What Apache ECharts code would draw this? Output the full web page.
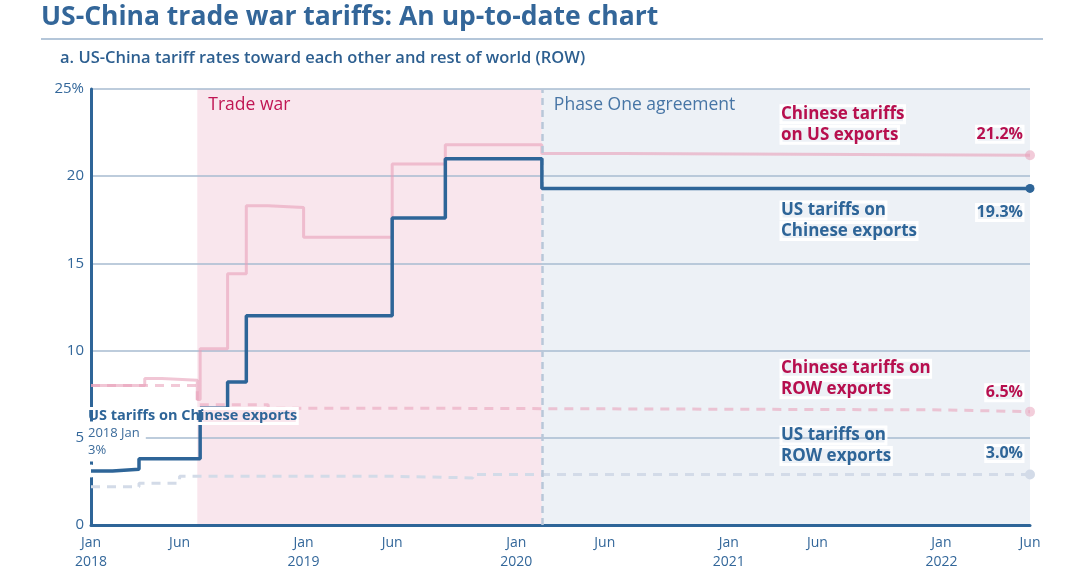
<!DOCTYPE html>
<html>
<head>
<meta charset="utf-8">
<script src="https://cdn.jsdelivr.net/npm/echarts@6/dist/echarts.min.js"></script>
<style>
html,body{margin:0;padding:0;background:#fff;}
#c{width:1080px;height:586px;}
</style>
</head>
<body>
<div id="c"></div>
<script>
// ---- Data ----
const usOnChinaDates  = ['2018-01-01','2018-02-07','2018-03-23','2018-07-06','2018-08-23','2018-09-24','2019-06-01','2019-09-01','2020-02-14','2022-06-01'];
const usOnChinaValues = [3.1, 3.2, 3.8, 6.7, 8.2, 12.0, 17.6, 21.0, 19.3, 19.3];

const chinaOnUSDates  = ['2018-01-01','2018-04-02','2018-05-01','2018-07-01','2018-07-06','2018-08-23','2018-09-24','2018-11-01','2019-01-01','2019-06-01','2019-09-01','2020-02-14','2020-07-01','2022-06-01'];
const chinaOnUSValues = [8.0, 8.4, 8.3, 7.2, 10.1, 14.4, 18.3, 18.2, 16.5, 20.7, 21.8, 21.3, 21.2, 21.2];

const chinaOnROWDates  = ['2018-01-01','2018-07-01','2018-11-01','2019-06-01','2022-01-01','2022-06-01'];
const chinaOnROWValues = [8.0, 6.9, 6.7, 6.6, 6.5, 6.5];

const usOnROWDates  = ['2018-01-01','2018-03-23','2018-06-01','2019-05-20','2019-10-18','2022-06-01'];
const usOnROWValues = [2.2, 2.4, 2.8, 2.7, 2.9, 2.9];

const tradeWarStart = '2018-07-01';
const phaseOneStart = '2020-02-14';
const axisEnd = '2022-06-01';

const xTickDates = ['2018-01-01','2018-06-01','2019-01-01','2019-06-01','2020-01-01','2020-06-01','2021-01-01','2021-06-01','2022-01-01','2022-06-01'];

const endLabels = {
  chinaOnUS: ['Chinese tariffs', 'on US exports'],
  usOnChina: ['US tariffs on', 'Chinese exports'],
  chinaOnROW: ['Chinese tariffs on', 'ROW exports'],
  usOnROW: ['US tariffs on', 'ROW exports']
};
const endValueText = { chinaOnUS: '21.2%', usOnChina: '19.3%', chinaOnROW: '6.5%', usOnROW: '3.0%' };

// ---- helpers ----
function toMonths(s){
  const [y,m,d] = s.split('-').map(Number);
  const dim = new Date(y, m, 0).getDate();
  return (y-2018)*12 + (m-1) + (d-1)/dim;
}
function pairs(dates, vals){ return dates.map((d,i)=>[toMonths(d), vals[i]]); }

const BLUE = '#2e6598';
const TXTBLUE = '#33679a';
const PINKTXT = '#b70f4e';
const FONT = '"Open Sans", "Noto Sans", sans-serif';

const xMin = toMonths('2018-01-01');
const xMax = toMonths(axisEnd);
const xTicks = xTickDates.map(toMonths);

const chart = echarts.init(document.getElementById('c'), null, {renderer:'canvas'});

const option = {
  animation: false,
  backgroundColor: '#ffffff',
  textStyle: { fontFamily: FONT },
  grid: { left: 91, right: 50, top: 89, bottom: 61, containLabel: false },
  xAxis: {
    type: 'value', min: xMin, max: xMax, z: 3,
    axisLine: { show: true, onZero: false, lineStyle: { color: BLUE, width: 3 } },
    axisTick: { show: false },
    splitLine: { show: false },
    axisLabel: {
      customValues: xTicks,
      color: TXTBLUE, fontSize: 14, lineHeight: 19, margin: 9, fontFamily: FONT,
      formatter: function(v){
        const m = Math.round(v);
        const yr = 2018 + Math.floor(m/12);
        return (m % 12 === 0) ? 'Jan\n' + yr : 'Jun';
      }
    }
  },
  yAxis: {
    type: 'value', min: 0, max: 25, interval: 5, z: 3,
    axisLine: { show: true, lineStyle: { color: BLUE, width: 3 } },
    axisTick: { show: false },
    splitLine: { show: true, lineStyle: { color: '#a7bbd0', width: 1.5 } },
    axisLabel: {
      color: TXTBLUE, fontSize: 15, margin: 7, fontFamily: FONT,
      formatter: function(v){ return v === 25 ? '25%' : String(v); }
    }
  },
  series: [
    {
      name: 'bands', type: 'line', data: [], z: 1, silent: true,
      markArea: {
        silent: true,
        data: [
          [{ xAxis: toMonths(tradeWarStart), itemStyle: { color: '#f9e6ed' } }, { xAxis: toMonths(phaseOneStart) }],
          [{ xAxis: toMonths(phaseOneStart), itemStyle: { color: '#edf1f6' } }, { xAxis: xMax }]
        ]
      }
    },
    {
      name: 'US tariffs on ROW exports', type: 'line', step: 'end', z: 4,
      data: pairs(usOnROWDates, usOnROWValues), showSymbol: false, silent: true,
      lineStyle: { color: '#d3dbe8', width: 3, type: [9, 7] },
      markPoint: { silent: true, symbol: 'circle', symbolSize: 10, itemStyle: { color: '#d3dbe8' }, label: { show: false },
        data: [{ coord: [xMax, usOnROWValues[usOnROWValues.length-1]] }] }
    },
    {
      name: 'Chinese tariffs on ROW exports', type: 'line', step: 'end', z: 4,
      data: pairs(chinaOnROWDates, chinaOnROWValues), showSymbol: false, silent: true,
      lineStyle: { color: 'rgba(234,165,189,0.6)', width: 3, type: [9, 7] },
      markPoint: { silent: true, symbol: 'circle', symbolSize: 10, itemStyle: { color: 'rgba(234,165,189,0.55)' }, label: { show: false },
        data: [{ coord: [xMax, chinaOnROWValues[chinaOnROWValues.length-1]] }] }
    },
    {
      name: 'Chinese tariffs on US exports', type: 'line', step: 'end', z: 4,
      data: pairs(chinaOnUSDates, chinaOnUSValues), showSymbol: false, silent: true,
      lineStyle: { color: 'rgba(232,160,185,0.6)', width: 3 },
      markPoint: { silent: true, symbol: 'circle', symbolSize: 10, itemStyle: { color: 'rgba(232,160,185,0.55)' }, label: { show: false },
        data: [{ coord: [xMax, chinaOnUSValues[chinaOnUSValues.length-1]] }] }
    },
    {
      name: 'phase line', type: 'line', data: [], z: 5, silent: true,
      markLine: {
        silent: true, symbol: 'none', label: { show: false },
        lineStyle: { color: '#b9c7d9', width: 2.5, type: [7, 5] },
        data: [{ xAxis: toMonths(phaseOneStart) }]
      }
    },
    {
      name: 'US tariffs on Chinese exports', type: 'line', step: 'end', z: 6,
      data: pairs(usOnChinaDates, usOnChinaValues), showSymbol: false, silent: true,
      lineStyle: { color: BLUE, width: 3.5 },
      markPoint: { silent: true, label: { show: false },
        data: [
          { coord: [xMax, usOnChinaValues[usOnChinaValues.length-1]], symbol: 'circle', symbolSize: 9, itemStyle: { color: BLUE } },
          { coord: [xMin, usOnChinaValues[0]], symbol: 'emptyCircle', symbolSize: 13, itemStyle: { color: 'rgba(255,255,255,0)', borderColor: '#a0a0a0', borderWidth: 1.2 } }
        ] }
    }
  ]
};
chart.setOption(option);

// ---- annotations ----
function px(x, y){ return chart.convertToPixel({gridIndex:0}, [x, y]); }
const halo = { textBorderColor: '#ffffff', textBorderWidth: 3 };
function txt(x, y, text, opts){
  return { type: 'text', x: x, y: y, z: 100, zlevel: 1, silent: true,
    style: Object.assign({ text: text, fontFamily: FONT, fontSize: 17, fontWeight: 'bold', fill: BLUE, textVerticalAlign: 'middle', textAlign: 'left' }, halo, opts || {}) };
}
const labelX = 781;
const valRight = 1023;
const g = [];
// titles
g.push({ type:'text', x: 41, y: 17, z: 100, zlevel: 1, style: { text: 'US-China trade war tariffs: An up-to-date chart', fontFamily: FONT, fontSize: 26.5, fontWeight: 'bold', fill: '#336699', textVerticalAlign: 'middle' } });
g.push({ type:'line', z: 100, zlevel: 1, shape: { x1: 41, y1: 39, x2: 1043, y2: 39 }, style: { stroke: '#b4c6d9', lineWidth: 2 } });
g.push({ type:'text', x: 60, y: 58, z: 100, zlevel: 1, style: { text: 'a. US-China tariff rates toward each other and rest of world (ROW)', fontFamily: FONT, fontSize: 16.5, fontWeight: 600, fill: '#2d5f90', textVerticalAlign: 'middle' } });
// band labels
const topPx = px(xMin, 25)[1];
g.push({ type:'text', x: px(toMonths(tradeWarStart), 0)[0] + 11, y: topPx + 16, z: 100, zlevel: 1, style: { text: 'Trade war', fontFamily: FONT, fontSize: 17.5, fill: '#c01553', textVerticalAlign: 'middle' } });
g.push({ type:'text', x: px(toMonths(phaseOneStart), 0)[0] + 12, y: topPx + 16, z: 100, zlevel: 1, style: { text: 'Phase One agreement', fontFamily: FONT, fontSize: 17.5, fill: '#4775a5', textVerticalAlign: 'middle' } });
// end labels
function endBlock(key, lineY1, valY, color){
  const lines = endLabels[key];
  g.push(txt(labelX, lineY1, lines[0], { fill: color }));
  g.push(txt(labelX, lineY1 + 20.5, lines[1], { fill: color }));
  g.push(txt(valRight, valY, endValueText[key], { fill: color, textAlign: 'right', fontSize: 16 }));
}
const yCUS = px(xMax, chinaOnUSValues[chinaOnUSValues.length-1])[1];
const yUSC = px(xMax, usOnChinaValues[usOnChinaValues.length-1])[1];
const yCROW = px(xMax, chinaOnROWValues[chinaOnROWValues.length-1])[1];
const yUROW = px(xMax, usOnROWValues[usOnROWValues.length-1])[1];
endBlock('chinaOnUS', yCUS - 41, yCUS - 21, PINKTXT);
endBlock('usOnChina', yUSC + 22, yUSC + 24, BLUE);
endBlock('chinaOnROW', yCROW - 43, yCROW - 19, PINKTXT);
endBlock('usOnROW', yUROW - 39, yUROW - 21, BLUE);
// start annotation (tooltip-like, on a white backdrop)
const s = px(xMin, usOnChinaValues[0]);
g.push(txt(s[0] - 3, s[1] - 55, 'US tariffs on Chinese exports', { fontSize: 14.5, fill: BLUE }));
g.push(txt(s[0] - 3, s[1] - 38, '2018 Jan', { fontSize: 13, fontWeight: 'normal', fill: '#3b6b9b', backgroundColor: '#ffffff', padding: [2, 3, 2, 0] }));
g.push(txt(s[0] - 3, s[1] - 21, '3%', { fontSize: 13, fontWeight: 'normal', fill: '#3b6b9b', backgroundColor: '#ffffff', padding: [2, 3, 2, 0] }));
chart.setOption({ graphic: { elements: g } });
</script>
</body>
</html>
